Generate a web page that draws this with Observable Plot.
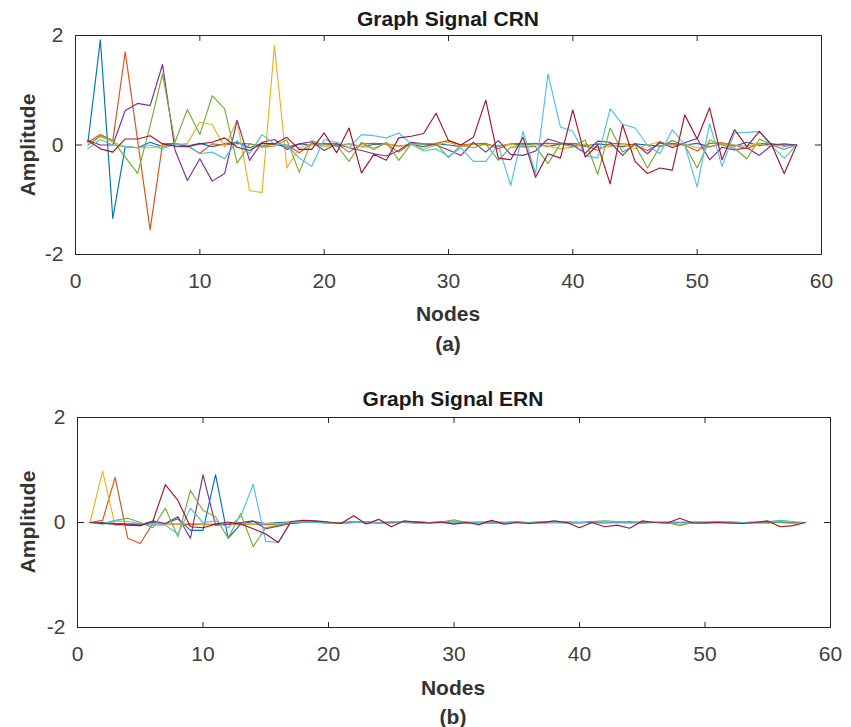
<!DOCTYPE html>
<html><head><meta charset="utf-8">
<script src="https://cdn.jsdelivr.net/npm/d3@7"></script>
<script src="https://cdn.jsdelivr.net/npm/@observablehq/plot@0.6"></script>
<style>
body{margin:0;background:#fff;font-family:"Liberation Sans",Arial,Helvetica,sans-serif;}
#wrap{position:relative;width:851px;height:727px;overflow:hidden;background:#fff}
.t{position:absolute;z-index:5;font-weight:bold;font-size:21px;color:#333;white-space:nowrap;transform:translate(-50%,-50%);line-height:1}
.title{color:#1a1a1a}
.yl{transform:translate(-50%,-50%) rotate(-90deg)}
.p{position:absolute;left:0;z-index:1}
</style></head><body>
<div id="wrap">
  <div class="p" id="p1" style="top:0"></div>
  <div class="p" id="p2" style="top:381px"></div>
  <div class="t title" style="left:448px;top:18px">Graph Signal CRN</div>
  <div class="t yl" style="left:27px;top:145px">Amplitude</div>
  <div class="t" style="left:448px;top:313px">Nodes</div>
  <div class="t" style="left:448px;top:343px">(a)</div>
  <div class="t title" style="left:453px;top:398px">Graph Signal ERN</div>
  <div class="t yl" style="left:27px;top:522px">Amplitude</div>
  <div class="t" style="left:453px;top:687px">Nodes</div>
  <div class="t" style="left:453px;top:716px">(b)</div>
</div>
<script>
const seriesNames = ["s1","s2","s3","s4","s5","s6","s7"];
const seriesColors = ["#0072BD","#D95319","#EDB120","#7E2F8E","#77AC30","#4DBEEE","#A2142F"];
const xTicks = [0,10,20,30,40,50,60];
const yTicks = [-2,0,2];

// Graph Signal CRN (nodes 1..58)
const crnBlue = [0.05,1.92,-1.34,-0.03,-0.05,0.05,-0.03,0.02,-0.02,0.03,-0.03,0.02,0.05,-0.05,0.03,0.02,-0.04,0.02,0.0,0.03,-0.02,0.02,-0.03,0.01,0.02,-0.02,0.01,-0.03,0.02,0.0,-0.03,0.02,0.01,-0.02,0.02,0.0,0.03,-0.03,0.02,0.0,-0.02,0.02,0.0,-0.03,0.02,0.0,-0.02,0.03,0.0,0.03,-0.03,0.02,-0.02,0.05,-0.01,0.02,-0.02,0.0];
const crnOrange = [0.05,0.19,0.08,1.70,0.08,-1.55,0.02,0.03,-0.02,-0.15,0.02,0.0,0.03,0.02,-0.02,0.02,0.0,-0.14,0.03,0.02,0.03,-0.13,0.02,0.03,0.02,-0.13,0.03,0.02,0.03,0.08,0.0,0.02,0.03,-0.07,0.02,0.03,0.02,0.03,0.02,0.03,0.0,-0.1,0.03,0.02,0.0,-0.1,0.03,0.02,0.0,-0.11,0.03,0.04,0.0,-0.07,0.03,0.02,0.0,0.0];
const crnYellow = [0.0,0.15,0.05,-0.03,-0.05,-0.05,-0.02,0.0,0.03,0.42,0.37,-0.04,0.45,-0.83,-0.87,1.82,-0.42,-0.05,0.02,-0.03,0.0,0.02,-0.03,-0.05,0.03,-0.03,0.02,-0.08,0.0,0.05,-0.03,0.02,0.0,-0.03,0.02,-0.04,0.0,-0.02,-0.07,-0.04,0.02,-0.05,-0.03,0.02,-0.07,0.0,0.06,-0.02,0.02,-0.05,-0.04,0.02,0.0,-0.02,0.02,-0.03,0.0,0.0];
const crnPurple = [0.08,0.0,0.0,0.63,0.76,0.72,1.47,-0.09,-0.65,-0.25,-0.66,-0.52,0.45,-0.28,0.05,0.1,-0.08,0.02,0.06,-0.1,0.02,-0.05,-0.1,-0.16,-0.2,-0.1,0.05,0.02,0.0,-0.09,-0.19,0.05,-0.13,0.08,-0.17,-0.19,-0.11,0.11,0.04,0.0,-0.15,0.07,0.05,-0.19,0.03,-0.16,0.06,-0.05,0.04,0.12,-0.27,-0.04,-0.09,-0.05,-0.19,0.0,0.02,0.0];
const crnGreen = [0.0,0.17,0.08,-0.22,-0.52,0.35,1.30,0.05,0.65,0.19,0.9,0.66,-0.33,0.02,-0.04,-0.02,0.09,-0.5,0.08,0.0,0.0,-0.3,0.05,-0.08,0.05,-0.28,0.02,0.02,0.03,-0.23,0.0,-0.05,0.02,-0.28,-0.04,-0.03,-0.03,-0.34,0.02,-0.03,0.09,-0.54,0.31,-0.13,0.0,-0.42,-0.03,0.08,0.0,-0.42,0.09,0.0,-0.06,-0.25,0.11,0.0,-0.08,0.0];
const crnCyan = [-0.07,0.1,0.0,-0.03,-0.05,0.0,-0.07,0.02,0.0,-0.16,-0.13,-0.25,0.08,-0.16,0.19,0.02,0.0,-0.24,-0.39,0.1,0.05,-0.05,0.19,0.17,0.13,0.22,0.02,-0.11,-0.07,-0.21,-0.05,-0.3,-0.3,0.0,-0.74,0.25,-0.53,1.3,0.33,0.25,-0.19,-0.24,0.66,0.38,0.31,0.0,-0.16,0.28,0.0,-0.77,0.39,-0.39,0.22,0.23,0.25,-0.02,-0.24,0.0];
const crnRed = [0.08,-0.07,-0.13,0.11,0.11,0.17,0.02,-0.02,-0.03,0.02,0.05,0.13,-0.04,-0.1,0.03,0.02,0.14,-0.08,-0.08,0.22,-0.14,0.31,-0.51,-0.17,-0.28,0.13,0.16,0.21,0.58,0.08,0.0,0.14,0.82,-0.24,-0.27,0.14,-0.59,-0.16,-0.24,0.64,-0.22,0.0,-0.71,0.37,-0.3,-0.52,-0.42,-0.46,0.55,0.11,0.68,-0.27,0.28,-0.03,0.25,0.0,-0.52,0.0];

// Graph Signal ERN (nodes 1..58)
const ernBlue = [0.0,0.0,-0.02,-0.03,-0.03,0.0,-0.02,0.07,-0.15,-0.15,0.91,-0.3,-0.03,0.02,-0.02,0.0,0.01,0.0,0.01,-0.01,0.0,0.01,-0.01,0.0,0.01,0.0,-0.01,0.0,0.01,0.0,-0.01,0.0,0.01,0.0,0.0,-0.01,0.01,0.0,0.0,-0.01,0.01,0.0,0.0,0.01,-0.01,0.0,0.01,0.0,0.0,-0.01,0.0,0.01,0.0,0.0,-0.01,0.01,0.0,0.0];
const ernOrange = [0.0,0.04,0.86,-0.3,-0.4,-0.02,-0.03,-0.03,-0.04,-0.03,-0.04,-0.03,-0.04,-0.03,-0.04,-0.03,-0.01,0.0,0.01,0.0,-0.01,0.0,0.01,0.0,-0.01,0.0,0.01,0.0,0.0,-0.01,0.0,0.01,0.0,-0.01,0.0,0.0,0.01,0.0,-0.01,0.0,0.01,0.0,0.0,-0.01,0.0,0.01,0.0,0.0,-0.01,0.0,0.01,0.0,0.0,-0.01,0.0,0.01,0.0,0.0];
const ernYellow = [0.0,0.98,-0.06,-0.02,-0.05,-0.02,-0.03,-0.03,-0.02,-0.03,-0.03,-0.02,-0.03,-0.03,-0.02,-0.03,0.0,0.01,0.0,-0.01,0.0,0.01,0.0,-0.01,0.0,0.0,0.01,0.0,-0.01,0.0,0.02,0.0,-0.01,0.0,0.01,0.0,0.0,-0.01,0.0,0.01,0.0,0.0,-0.01,0.0,0.01,0.0,0.0,-0.03,0.0,0.01,0.0,0.0,-0.01,0.0,0.01,0.0,0.0,0.0];
const ernPurple = [0.0,0.0,-0.02,-0.03,-0.05,0.03,-0.02,0.11,-0.3,0.91,-0.05,-0.03,0.0,0.03,-0.12,-0.07,-0.02,0.0,0.01,0.0,-0.01,0.0,0.01,-0.01,0.0,0.01,0.0,-0.01,0.0,0.01,0.0,0.0,-0.01,0.0,0.01,0.0,-0.01,0.0,0.01,0.0,0.0,-0.01,0.0,0.01,0.0,0.0,-0.01,0.0,0.01,0.0,0.0,-0.01,0.0,0.01,0.0,0.0,-0.01,0.0];
const ernGreen = [0.0,-0.02,0.04,0.08,0.0,-0.1,0.27,-0.27,0.61,0.23,0.11,-0.3,0.17,-0.46,-0.1,-0.05,0.0,0.01,0.0,-0.01,0.0,0.02,0.0,-0.01,0.01,0.0,0.02,0.0,0.01,0.05,0.0,-0.01,0.0,0.01,0.0,0.0,0.02,0.0,-0.01,0.0,0.02,0.03,0.02,0.0,-0.01,0.0,0.0,-0.06,0.0,0.01,0.02,0.0,-0.01,0.0,0.01,0.0,-0.01,0.0];
const ernCyan = [0.0,-0.03,0.03,0.02,-0.02,-0.05,-0.05,-0.22,0.27,0.0,0.03,-0.1,0.11,0.73,-0.36,-0.38,0.0,0.01,0.0,-0.01,-0.02,0.0,0.01,0.0,0.02,0.0,-0.01,0.0,0.01,0.0,-0.01,0.0,0.01,0.0,0.0,-0.01,0.02,0.0,0.01,0.0,-0.01,0.0,0.01,0.0,0.02,0.0,0.0,0.01,0.0,-0.01,0.0,0.01,0.0,0.0,0.02,0.04,0.02,0.0];
const ernRed = [0.0,-0.02,-0.03,-0.05,-0.06,0.02,0.72,0.42,-0.08,-0.1,-0.03,0.01,-0.03,-0.12,-0.22,-0.38,0.02,0.04,0.03,0.01,-0.02,0.13,-0.03,0.06,-0.08,0.03,0.01,-0.01,0.01,-0.03,0.0,-0.04,0.04,-0.03,0.0,-0.02,0.0,0.03,0.0,-0.1,0.0,-0.08,-0.05,-0.11,0.03,0.0,-0.01,0.08,-0.01,-0.01,0.0,-0.01,-0.02,0.0,0.03,-0.08,-0.06,0.0];

const crnSeries = [crnBlue,crnOrange,crnYellow,crnPurple,crnGreen,crnCyan,crnRed];
const ernSeries = [ernBlue,ernOrange,ernYellow,ernPurple,ernGreen,ernCyan,ernRed];

function toRows(list){
  return list.flatMap((vals, si) => vals.map((v, i) => ({node: i + 1, value: v, series: seriesNames[si]})));
}

const tickFont = 21;
function panel({rows, width, marginLeft, marginRight, marginTop, frameH, labelGap}){
  const height = marginTop + frameH + 50;
  const innerW = width - marginLeft - marginRight;
  return Plot.plot({
    width, height,
    marginLeft, marginRight, marginTop, marginBottom: height - marginTop - frameH,
    style: {fontFamily: '"Liberation Sans", Arial, sans-serif', fontSize: tickFont + "px", color: "#404040", background: "transparent", overflow: "visible"},
    x: {domain: [0, 60], ticks: xTicks},
    y: {domain: [-2, 2], ticks: yTicks},
    color: {domain: seriesNames, range: seriesColors},
    marks: [
      Plot.lineY(rows, {x: "node", y: "value", z: "series", stroke: "series", strokeWidth: 1.15}),
      Plot.frame({stroke: "#262626", strokeWidth: 1}),
      Plot.axisX({anchor: "bottom", ticks: xTicks, tickSize: 0, tickPadding: labelGap, fontSize: tickFont, label: null, stroke: "none", fill: "#404040"}),
      Plot.axisY({anchor: "left", ticks: yTicks, tickSize: 0, tickPadding: 12, fontSize: tickFont, label: null, stroke: "none", fill: "#404040", tickFormat: d => d === 0 ? "0" : String(d)}),
      Plot.axisX({anchor: "top", ticks: xTicks, tickSize: 6, fill: "none", stroke: "#262626", dy: frameH}),
      Plot.axisX({anchor: "bottom", ticks: xTicks, tickSize: 6, fill: "none", stroke: "#262626", dy: -frameH}),
      Plot.axisY({anchor: "right", ticks: yTicks, tickSize: 6, fill: "none", stroke: "#262626", dx: -innerW}),
      Plot.axisY({anchor: "left", ticks: yTicks, tickSize: 6, fill: "none", stroke: "#262626", dx: innerW})
    ]
  });
}

document.getElementById("p1").append(panel({rows: toRows(crnSeries), width: 851, marginLeft: 75, marginRight: 30, marginTop: 35, frameH: 219, labelGap: 19}));
document.getElementById("p2").append(panel({rows: toRows(ernSeries), width: 851, marginLeft: 77, marginRight: 21, marginTop: 36, frameH: 210, labelGap: 19}));
</script>
</body></html>
